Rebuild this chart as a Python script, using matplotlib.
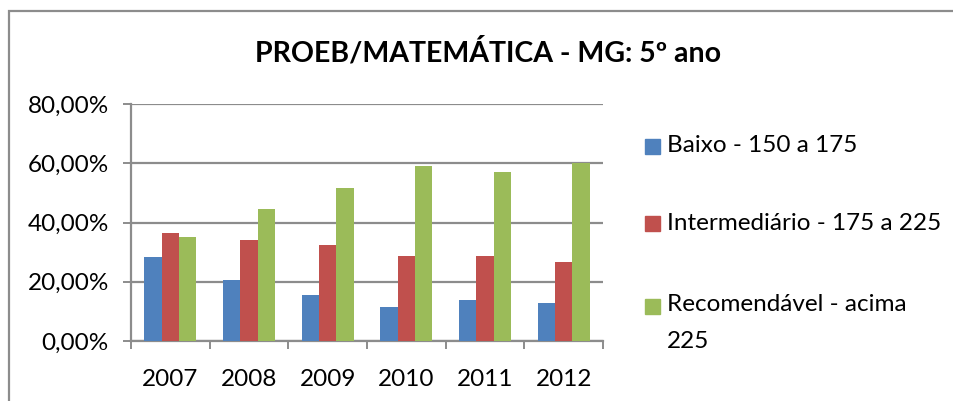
import matplotlib
matplotlib.use("Agg")
import matplotlib.pyplot as plt
from matplotlib.patches import Rectangle
import numpy as np

plt.rcParams['font.family'] = ['Lato', 'DejaVu Sans']

anos = ['2007', '2008', '2009', '2010', '2011', '2012']
baixo = [28.3, 20.7, 15.4, 11.5, 13.7, 12.8]
intermediario = [36.3, 34.2, 32.3, 28.7, 28.7, 26.8]
recomendavel = [35.0, 44.6, 51.6, 59.2, 57.0, 60.0]
series = [baixo, intermediario, recomendavel]
nomes = ['Baixo - 150 a 175', 'Intermediário - 175 a 225', 'Recomendável - acima\n225']
cores = ['#4F81BD', '#C0504D', '#9BBB59']
titulo = 'PROEB/MATEMÁTICA - MG: 5º ano'

W, H = 954, 401
fig = plt.figure(figsize=(W / 100, H / 100), dpi=100)
ax = fig.add_axes([131 / W, 1 - 341 / H, (603 - 131) / W, (341 - 104) / H])

grid_c = '#8c8c8c'
fs = 17.5
x = np.arange(len(anos))
bw = 0.22
for i, (vals, c) in enumerate(zip(series, cores)):
    ax.bar(x + (i - 1) * bw, vals, bw, color=c, edgecolor='none', zorder=3)

ax.set_xlim(-0.5, len(anos) - 0.5)
ax.set_ylim(0, 80)
ax.set_yticks(range(0, 81, 20))
ax.set_yticklabels([f'{v},00%' for v in range(0, 81, 20)], fontsize=fs)
ax.yaxis.grid(True, color=grid_c, linewidth=1.6, zorder=0)
ax.set_xticks(x)
ax.set_xticklabels(anos, fontsize=fs)
ax.set_xticks(np.arange(-0.5, len(anos)), minor=True)
ax.tick_params(axis='x', which='major', length=0, pad=20)
ax.tick_params(axis='x', which='minor', length=6, width=1.4, color=grid_c)
ax.tick_params(axis='y', length=6, width=1.4, color=grid_c, pad=10)
for s in ['top', 'right']:
    ax.spines[s].set_visible(False)
for s in ['left', 'bottom']:
    ax.spines[s].set_color(grid_c)
    ax.spines[s].set_linewidth(1.6)

fig.text(488 / W, 1 - 52 / H, titulo, fontsize=20.5, fontweight='bold',
         ha='center', va='center')

# legenda
ys = [146, 224, 306]
for nome, c, yy in zip(nomes, cores, ys):
    fig.patches.append(Rectangle((645 / W, 1 - (yy + 7.5) / H), 15 / W, 15 / H,
                                 transform=fig.transFigure, color=c))
    if '\n' in nome:
        fig.text(667 / W, 1 - (yy - 12) / H, nome, fontsize=fs, ha='left', va='top',
                 linespacing=1.92)
    else:
        fig.text(667 / W, 1 - yy / H, nome, fontsize=fs, ha='left', va='center')

# borda
fig.patches.append(Rectangle((9 / W, -0.1), 1.2, 1 - 11 / H + 0.1, transform=fig.transFigure,
                             fill=False, edgecolor='#8c8c8c', linewidth=1.6))

fig.savefig('out.png', dpi=100)
